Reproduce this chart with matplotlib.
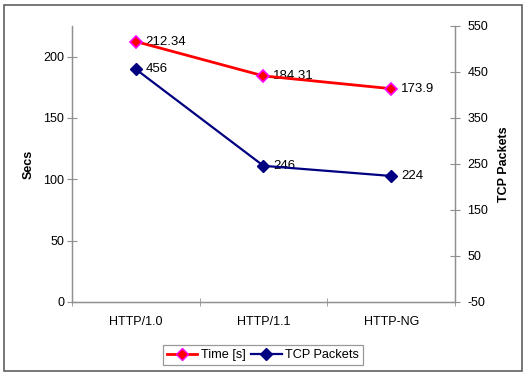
import matplotlib
matplotlib.use("Agg")
import matplotlib.pyplot as plt
from matplotlib.patches import Rectangle
from matplotlib.lines import Line2D

categories = ["HTTP/1.0", "HTTP/1.1", "HTTP-NG"]
time_s = [212.34, 184.31, 173.9]
time_labels = ["212.34", "184.31", "173.9"]
tcp_packets = [456, 246, 224]
tcp_labels = ["456", "246", "224"]
left_ticks = [0, 50, 100, 150, 200]
right_ticks = [-50, 50, 150, 250, 350, 450, 550]

plt.rcParams['font.family'] = ['Liberation Sans', 'DejaVu Sans']
plt.rcParams['axes.unicode_minus'] = False

fig = plt.figure(figsize=(5.30, 3.77), dpi=100)
fig.patches.append(Rectangle((4/530, 1-371/377), 518/530, 366/377, transform=fig.transFigure,
                             fill=False, edgecolor='#606060', linewidth=1.2))

ax = fig.add_axes([72/530, 1-302/377, 383/530, 276/377])
ax2 = ax.twinx()
x = list(range(len(categories)))

gray = '#909090'
ax.set_xlim(-0.5, 2.5)
ax.set_ylim(0, 225)
ax2.set_ylim(-50, 550)

ax.plot(x, time_s, color='#ff0000', lw=2, marker='D', ms=6.5,
        markerfacecolor='#ff0000', markeredgecolor='#ff00ff', markeredgewidth=1.2, zorder=5)
ax2.plot(x, tcp_packets, color='#000080', lw=1.6, marker='D', ms=6.5,
         markerfacecolor='#000080', markeredgecolor='#000080', zorder=5)

for xi, v, t in zip(x, time_s, time_labels):
    ax.annotate(t, (xi, v), xytext=(7, 0), textcoords='offset points', va='center', ha='left', fontsize=9.5)
for xi, v, t in zip(x, tcp_packets, tcp_labels):
    ax2.annotate(t, (xi, v), xytext=(7, 0), textcoords='offset points', va='center', ha='left', fontsize=9.5)

for a in (ax, ax2):
    a.spines['top'].set_visible(False)
    for s in ('left', 'right', 'bottom'):
        a.spines[s].set_color(gray)
        a.spines[s].set_linewidth(0.9)

ax.set_yticks(left_ticks)
ax2.set_yticks(right_ticks)
ax.set_xticks(x)
ax.set_xticklabels(categories, fontsize=9)
ax.set_xticks([-0.5, 0.5, 1.5, 2.5], minor=True)
ax.tick_params(axis='x', which='major', length=0, pad=10)
ax.tick_params(axis='x', which='minor', direction='inout', length=6, color=gray)
ax.tick_params(axis='y', direction='inout', length=7, color=gray, labelsize=9, pad=2)
ax2.tick_params(axis='y', direction='inout', length=7, color=gray, labelsize=9, pad=5.5)

ax.set_ylabel("Secs", fontsize=9, fontweight='bold', labelpad=6)
ax2.set_ylabel("TCP Packets", fontsize=9, fontweight='bold', labelpad=7)

h1 = Line2D([], [], color='#ff0000', lw=2, marker='D', ms=6, markerfacecolor='#ff0000',
            markeredgecolor='#ff00ff')
h2 = Line2D([], [], color='#000080', lw=1.6, marker='D', ms=6, markerfacecolor='#000080',
            markeredgecolor='#000080')
leg = fig.legend([h1, h2], ["Time [s]", "TCP Packets"], loc='center', bbox_to_anchor=(263/530, 1-355/377),
                 ncol=2, fontsize=9.2, frameon=True, fancybox=False, edgecolor='#808080',
                 handlelength=2.4, handletextpad=0.3, columnspacing=0.4, borderpad=0.3)
leg.get_frame().set_linewidth(0.9)

fig.savefig("out.png", dpi=100)
